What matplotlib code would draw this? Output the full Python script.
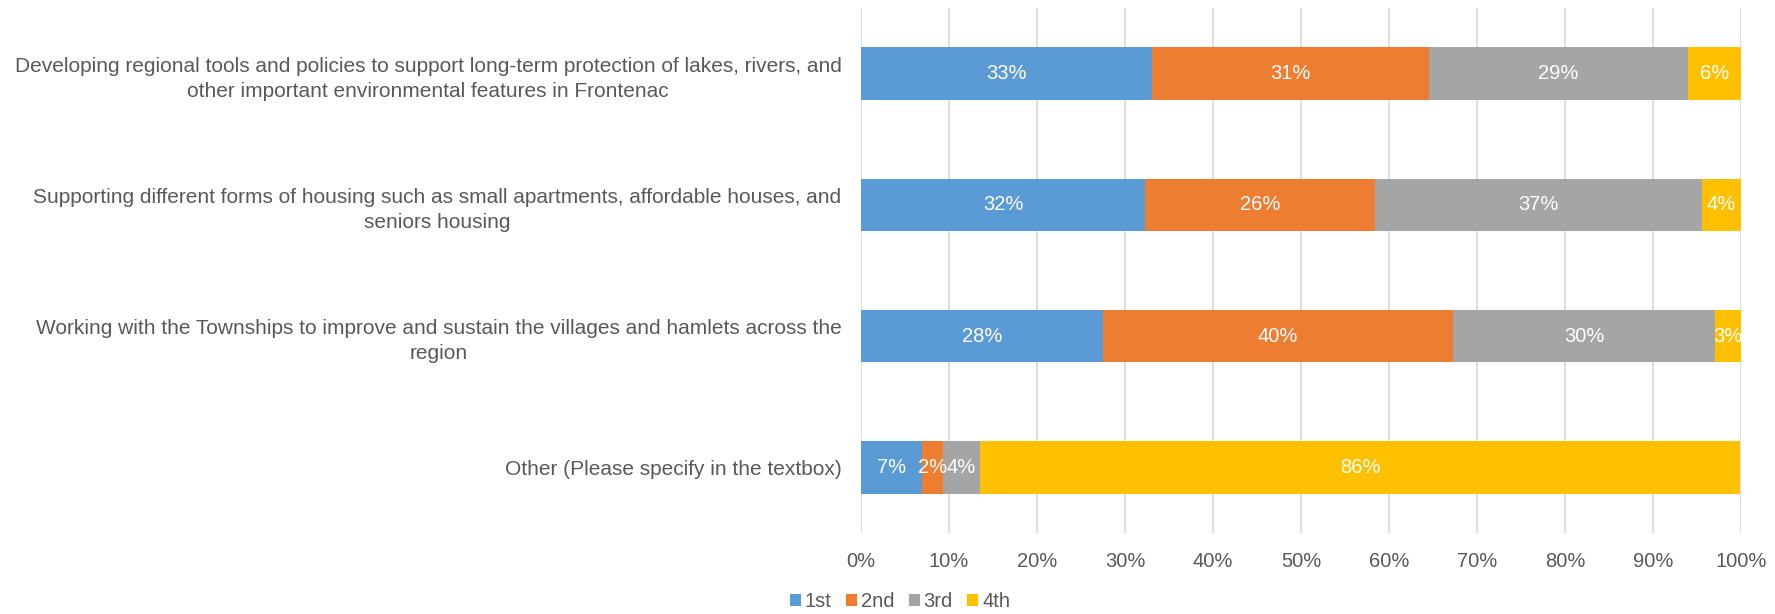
import matplotlib.pyplot as plt
import numpy as np

plt.rcParams['font.family'] = ['Liberation Sans', 'DejaVu Sans']

categories = [
    'Developing regional tools and policies to support long-term protection of lakes, rivers, and\nother important environmental features in Frontenac',
    'Supporting different forms of housing such as small apartments, affordable houses, and\nseniors housing',
    'Working with the Townships to improve and sustain the villages and hamlets across the\nregion',
    'Other (Please specify in the textbox)',
]
series = ['1st', '2nd', '3rd', '4th']
first = [0.331, 0.323, 0.275, 0.069]
second = [0.314, 0.261, 0.398, 0.024]
third = [0.294, 0.371, 0.297, 0.042]
fourth = [0.061, 0.045, 0.030, 0.864]
colors = ['#5B9BD5', '#ED7D31', '#A5A5A5', '#FFC000']

fig = plt.figure(figsize=(17.75, 6.14), dpi=100)
ax = fig.add_axes([0.485, 0.132, 0.496, 0.855])

y = np.arange(len(categories))
left = np.zeros(len(categories))
for name, vals, col in zip(series, [first, second, third, fourth], colors):
    vals = np.array(vals)
    ax.barh(y, vals, left=left, height=0.4, color=col, label=name, zorder=3)
    for yi, l, v in zip(y, left, vals):
        ax.text(l + v / 2, yi, f'{v * 100:.0f}%', ha='center', va='center',
                color='white', fontsize=14.5, zorder=4)
    left += vals

ax.set_xlim(0, 1)
ax.set_ylim(3.5, -0.5)
ax.set_xticks(np.linspace(0, 1, 11))
ax.set_xticklabels([f'{i}%' for i in range(0, 101, 10)])
ax.set_yticks(y)
ax.set_yticklabels(categories, multialignment='center', linespacing=1.4, fontsize=15)
ax.tick_params(axis='both', length=0, labelcolor='#595959')
ax.tick_params(axis='x', pad=14, labelsize=14.5)
ax.tick_params(axis='y', pad=14)
ax.grid(axis='x', color='#D9D9D9', linewidth=1.2, zorder=0)
for s in ax.spines.values():
    s.set_visible(False)

fig.legend(loc='lower center', bbox_to_anchor=(0.507, -0.025), ncol=4, frameon=False,
           fontsize=14.5, labelcolor='#595959', handlelength=0.55, handleheight=0.55,
           handletextpad=0.2, columnspacing=0.7)

fig.savefig('out.png', dpi=100)
